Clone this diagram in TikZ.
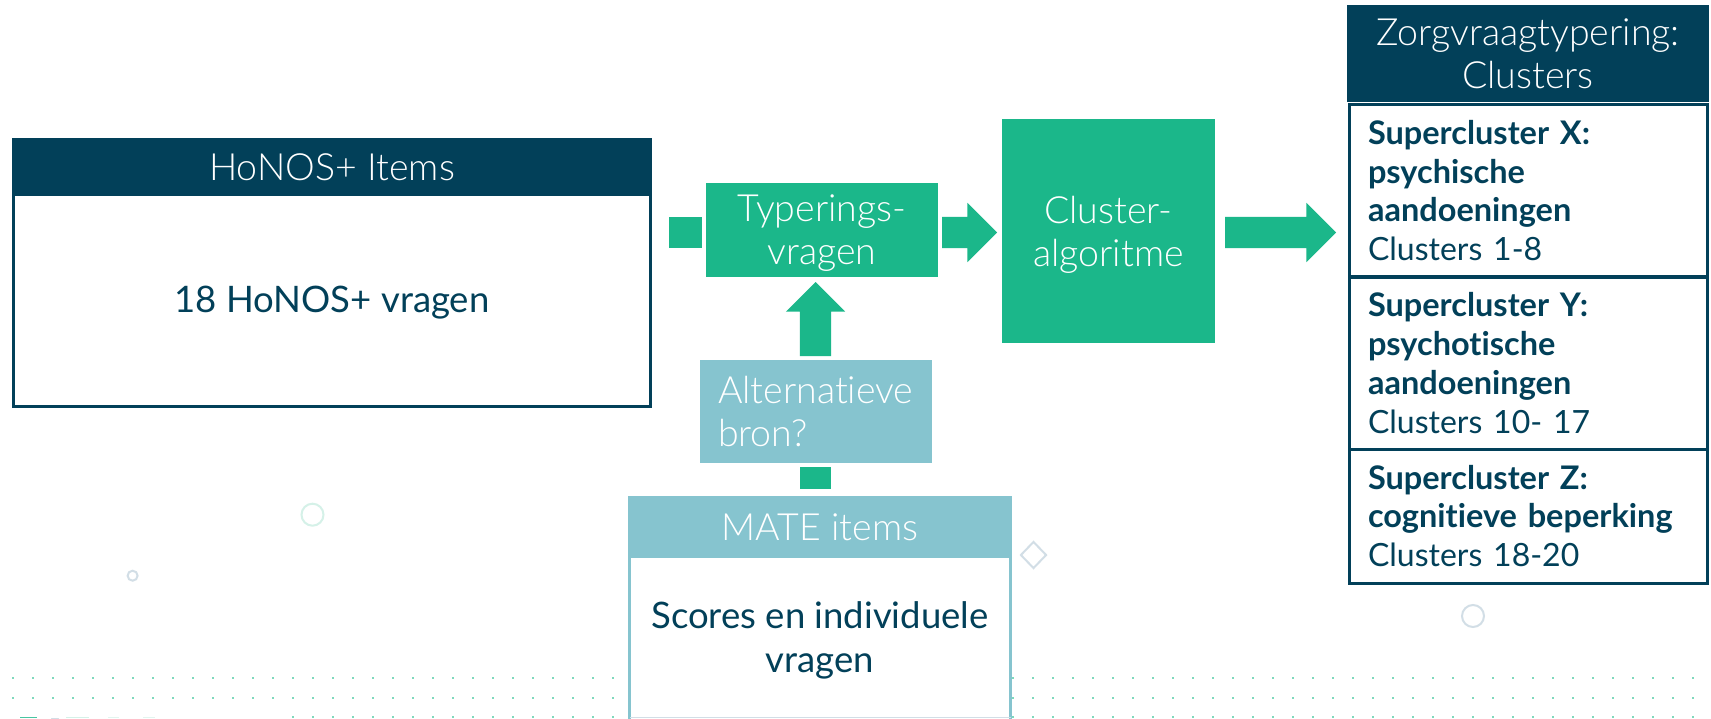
\documentclass[tikz,border=0pt]{standalone}
\usepackage{fontspec}
\setmainfont{Lato}[Ligatures=NoCommon]
\newfontfamily\lightf{Lato Light}[Ligatures=NoCommon]
\usetikzlibrary{shapes.arrows,shapes.geometric,calc}
\definecolor{darkb}{HTML}{024059}
\definecolor{greenb}{HTML}{1BB78A}
\definecolor{tealb}{HTML}{86C4CF}
\definecolor{dotc}{HTML}{7FD9BC}
\definecolor{ringg}{HTML}{D5F1E8}
\definecolor{ringb}{HTML}{D2DEE6}
\tikzset{
  x=1pt,y=-1pt,
  flatbox/.style={inner sep=0pt,outer sep=0pt,align=center},
  bighead/.style={flatbox,text=white,font=\lightf\fontsize{37.5}{43}\selectfont},
  bodybox/.style={flatbox,draw=darkb,line width=3pt,fill=white,text=darkb,font=\fontsize{36.5}{44}\selectfont},
  matebox/.style={flatbox,draw=tealb,line width=3pt,fill=white,text=darkb,font=\fontsize{36.5}{44}\selectfont},
  cellbox/.style={flatbox,draw=darkb,line width=3pt,fill=white,text=darkb,align=left,font=\fontsize{32.5}{38.7}\selectfont},
  stub/.style={fill=greenb,inner sep=0pt,outer sep=0pt,minimum width=31pt,minimum height=31pt},
  blockarrow/.style={single arrow,fill=greenb,inner sep=0pt,outer sep=0pt,text height=31pt,text depth=0pt,
     single arrow head extend=14pt,single arrow head indent=0pt,single arrow tip angle=90,anchor=tail},
  ring/.style={circle,inner sep=0pt,outer sep=0pt,line width=2pt,fill=none},
}
\begin{document}
\begin{tikzpicture}
\useasboundingbox (0,0) rectangle (1711,718);
\fill[white] (0,0) rectangle (1711,718);
% decorative dots
\foreach \k in {0,...,84}{
  \pgfmathsetmacro{\dx}{12.7+20*\k}
  \fill[dotc] (\dx-1,676.7) rectangle (\dx+1,678.7);
  \fill[dotc] (\dx-1,696.7) rectangle (\dx+1,698.7);
}
\foreach \k in {14,...,84}{
  \pgfmathsetmacro{\dx}{12.7+20*\k}
  \fill[dotc] (\dx-1,716.2) rectangle (\dx+1,718);
}
% clipped logo top
\fill[greenb!80] (20,716.5) rectangle (37,718);
\fill[ringb] (51,718) arc (180:0:4 and 4);
\fill[ringg] (66,716.5) rectangle (89,718);
\fill[ringg!70] (108,716.5) rectangle (119,718);
\fill[ringg!70] (143,716.5) rectangle (155,718);
% decorative rings
\node[ring,draw=ringg,minimum size=22pt] (r1) at (312.5,514.7) {};
\node[ring,draw=ringb,minimum size=10pt] (r2) at (132.6,575.7) {};
\node[ring,draw=ringb,minimum size=22pt] (r3) at (1473,616) {};
\node[diamond,draw=ringb,line width=2pt,inner sep=0pt,minimum width=26pt,minimum height=27pt,aspect=1] (d1) at (1033.5,555) {};
% HoNOS
\node[bodybox,minimum width=637pt,minimum height=212.5pt] (honbody) at (332,300) {\rule{0pt}{32pt}18 HoNOS+ vragen};
\node[bighead,fill=darkb,minimum width=640pt,minimum height=58pt] (honhead) at (332,167) {HoNOS+ Items};
% Typering
\node[stub,minimum width=33pt] (s1) at (685.5,232.5) {};
\node[bighead,fill=greenb,minimum width=232pt,minimum height=94pt] (typ) at (822,230) {\rule{0pt}{32pt}Typerings-\\vragen};
\node[blockarrow,minimum height=55pt] (a1) at ($(typ.east)+(4pt,-2.5pt)$) {};
\node[bighead,fill=greenb,minimum width=213pt,minimum height=224pt] (clu) at (1108.5,231) {\rule{0pt}{34pt}Cluster-\\algoritme};
\node[blockarrow,minimum height=111pt] (a2) at ($(clu.east)+(10pt,-1.5pt)$) {};
% Alternatieve bron
\node[bighead,fill=tealb,minimum width=232pt,minimum height=103pt,align=left,text width=196pt] (alt) at (816,411.5) {Alternatieve\\bron?};
\node[blockarrow,minimum height=74pt,rotate=90] (a3) at ($(alt.north)+(-0.5pt,4pt)$) {};
\node[stub,minimum height=22pt] (s2) at (815.5,478) {};
% MATE
\node[matebox,minimum width=381pt,minimum height=184pt] (matebody) at (820,640) {Scores en individuele\\vragen};
\draw[ringb,line width=1.5pt] (630,717.3) -- (1011,717.3);
\node[bighead,fill=tealb,minimum width=384pt,minimum height=62pt] (matehead) at (820,527) {MATE items};
% Right column
\node[bighead,fill=darkb,minimum width=362pt,minimum height=97pt] (zhead) at (1528,53.5) {Zorgvraagtypering:\\Clusters};
\node[cellbox,minimum width=358pt,minimum height=172pt,text width=320pt] (c1) at (1528,190.5) {\textbf{Supercluster X:}\\\textbf{psychische}\\\textbf{aandoeningen}\\{\fontsize{32}{38.7}\selectfont Clusters 1-8}};
\node[cellbox,minimum width=358pt,minimum height=172pt,text width=320pt] (c2) at (1528,363) {\textbf{Supercluster Y:}\\\textbf{psychotische}\\\textbf{aandoeningen}\\{\fontsize{32}{38.7}\selectfont Clusters 10- 17}};
\node[cellbox,minimum width=358pt,minimum height=134pt,text width=320pt] (c3) at (1528,516) {\textbf{Supercluster Z:}\\\textbf{cognitieve beperking}\\{\fontsize{32}{38.7}\selectfont Clusters 18-20}};
\end{tikzpicture}
\end{document}
